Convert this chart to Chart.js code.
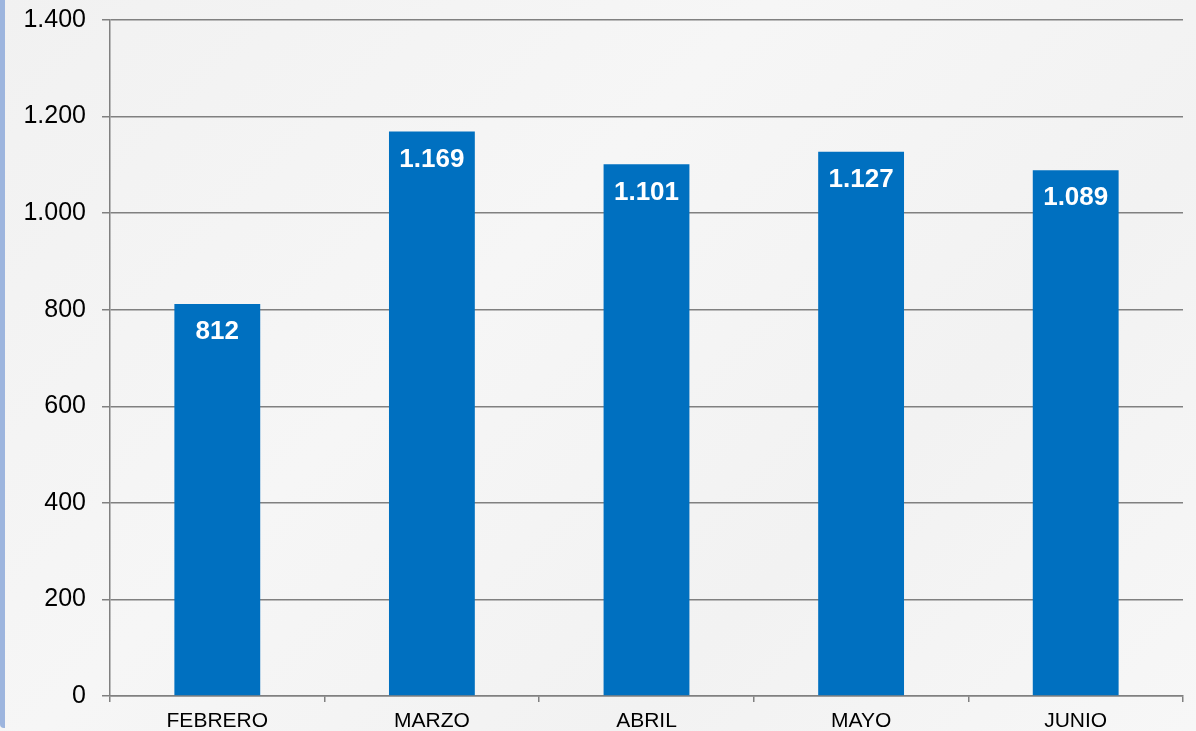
<!DOCTYPE html>
<html>
<head>
<meta charset="utf-8">
<script src="https://cdn.jsdelivr.net/npm/chart.js@4/dist/chart.umd.min.js"></script>
<style>
  html, body { margin: 0; padding: 0; }
  body { width: 1196px; height: 731px; overflow: hidden; background: #f4f4f4; }
  #wrap { position: absolute; left: 0; top: 0; width: 1196px; height: 731px;
          background: linear-gradient(135deg, #f1f1f1 0%, #f6f6f6 40%, #f2f2f2 70%, #f7f7f7 100%); }
  #strip { position: absolute; left: 0; top: 0; width: 5px; height: 728px; background: #9db5de; border-bottom-left-radius: 4px; }
  canvas { position: absolute; left: 0; top: 0; }
</style>
</head>
<body>
<div id="wrap"><div id="strip"></div><canvas id="c" width="1196" height="731"></canvas></div>
<script>
const categories = ['FEBRERO', 'MARZO', 'ABRIL', 'MAYO', 'JUNIO'];
const values = [812, 1169, 1101, 1127, 1089];
const yTicks = [0, 200, 400, 600, 800, 1000, 1200, 1400];

function fmt(v) {
  return String(v).replace(/\B(?=(\d{3})+(?!\d))/g, '.');
}

const valueLabels = {
  id: 'valueLabels',
  afterDatasetsDraw(chart) {
    const ctx = chart.ctx;
    const meta = chart.getDatasetMeta(0);
    ctx.save();
    ctx.fillStyle = '#ffffff';
    ctx.font = 'bold 26px "Liberation Sans", Arial, sans-serif';
    ctx.textAlign = 'center';
    ctx.textBaseline = 'middle';
    meta.data.forEach((bar, i) => {
      ctx.fillText(fmt(values[i]), bar.x, bar.y + 28);
    });
    ctx.restore();
  }
};

new Chart(document.getElementById('c'), {
  type: 'bar',
  data: {
    labels: categories,
    datasets: [{
      data: values,
      backgroundColor: '#0070c0',
      borderWidth: 0,
      barPercentage: 0.4,
      categoryPercentage: 1.0
    }]
  },
  options: {
    responsive: false,
    animation: false,
    devicePixelRatio: 1,
    layout: { padding: { top: 20, right: 13, left: 0, bottom: 0 } },
    plugins: { legend: { display: false }, tooltip: { enabled: false } },
    scales: {
      x: {
        grid: { display: true, drawOnChartArea: false, drawTicks: true, tickLength: 6, color: '#808080', lineWidth: 1.5, offset: true },
        border: { display: true, color: '#808080', width: 1.5 },
        ticks: { color: '#000000', font: { family: '"Liberation Sans", Arial, sans-serif', size: 21 }, padding: 7, maxRotation: 0 },
        afterFit(scale) { scale.height = 35; scale.paddingLeft = 0; scale.paddingRight = 0; }
      },
      y: {
        min: 0, max: 1400,
        afterBuildTicks(scale) { scale.ticks = yTicks.map(v => ({ value: v })); },
        grid: { color: '#808080', lineWidth: 1.5, drawTicks: true, tickLength: 8 },
        border: { display: true, color: '#808080', width: 1.5 },
        ticks: { color: '#000000', font: { family: '"Liberation Sans", Arial, sans-serif', size: 25 }, padding: 16, callback: (v) => fmt(v) },
        afterFit(scale) { scale.width = 110; scale.paddingTop = 0; scale.paddingBottom = 0; }
      }
    }
  },
  plugins: [valueLabels]
});
</script>
</body>
</html>
